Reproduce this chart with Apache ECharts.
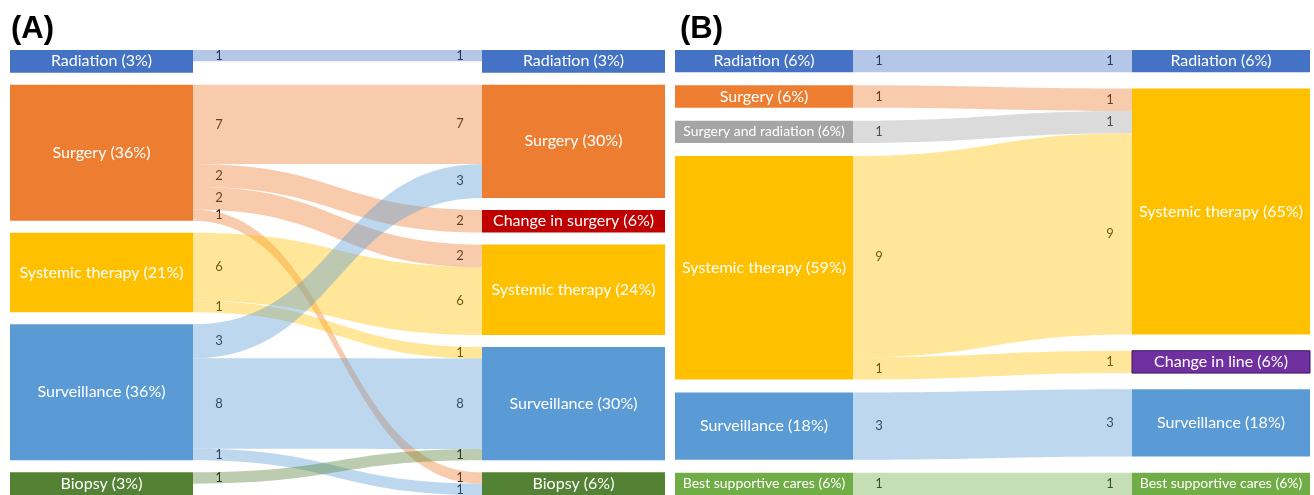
<!DOCTYPE html>
<html>
<head>
<meta charset="utf-8">
<script src="https://cdn.jsdelivr.net/npm/echarts@6/dist/echarts.min.js"></script>
<style>
html, body { margin: 0; padding: 0; background: #fff; }
#main { width: 1314px; height: 495px; }
</style>
</head>
<body>
<div id="main"></div>
<script>
// (A) treatment before / after
var leftA = ['Radiation (3%)', 'Surgery (36%)', 'Systemic therapy (21%)', 'Surveillance (36%)', 'Biopsy (3%)'];
var rightA = ['Radiation (3%)', 'Surgery (30%)', 'Change in surgery (6%)', 'Systemic therapy (24%)', 'Surveillance (30%)', 'Biopsy (6%)'];
var leftColorsA = ['#4472C4', '#ED7D31', '#FFC000', '#5B9BD5', '#548235'];
var rightColorsA = ['#4472C4', '#ED7D31', '#C00000', '#FFC000', '#5B9BD5', '#548235'];
// [left index, right index, patients]
var linksA = [
    [0, 0, 1],
    [1, 1, 7], [1, 2, 2], [1, 3, 2], [1, 5, 1],
    [2, 3, 6], [2, 4, 1],
    [3, 1, 3], [3, 4, 8], [3, 5, 1],
    [4, 4, 1]
];

// (B)
var leftB = ['Radiation (6%)', 'Surgery (6%)', 'Surgery and radiation (6%)', 'Systemic therapy (59%)', 'Surveillance (18%)', 'Best supportive cares (6%)'];
var rightB = ['Radiation (6%)', 'Systemic therapy (65%)', 'Change in line (6%)', 'Surveillance (18%)', 'Best supportive cares (6%)'];
var leftColorsB = ['#4472C4', '#ED7D31', '#A5A5A5', '#FFC000', '#5B9BD5', '#70AD47'];
var rightColorsB = ['#4472C4', '#FFC000', '#7030A0', '#5B9BD5', '#70AD47'];
var linksB = [
    [0, 0, 1],
    [1, 1, 1],
    [2, 1, 1],
    [3, 1, 9], [3, 2, 1],
    [4, 3, 3],
    [5, 4, 1]
];

function buildNodes(left, right, lc, rc, minSize) {
    var nodes = [];
    left.forEach(function (n, i) {
        nodes.push({ id: 'L' + i, name: n, value: minSize, itemStyle: { color: lc[i] } });
    });
    right.forEach(function (n, i) {
        nodes.push({ id: 'R' + i, name: n, value: minSize, itemStyle: { color: rc[i] } });
    });
    return nodes;
}
function buildLinks(links) {
    return links.map(function (l) {
        return { source: 'L' + l[0], target: 'R' + l[1], value: l[2] };
    });
}

var labelStyle = {
    show: true,
    position: 'inside',
    color: '#fff',
    fontFamily: 'Lato',
    fontSize: 16,
    formatter: function (p) { return p.data.name; }
};

var nodesA = buildNodes(leftA, rightA, leftColorsA, rightColorsA, 2);
var nodesB = buildNodes(leftB, rightB, leftColorsB, rightColorsB, 1);
// long names get a smaller font so they stay inside the box
nodesB.forEach(function (n) {
    if (n.name.length > 24) n.label = { fontSize: 14 };
});
// "Change in line" box has a dark outline
nodesB[leftB.length + 2].itemStyle.borderColor = '#3d1560';
nodesB[leftB.length + 2].itemStyle.borderWidth = 1;
var allNodes = [nodesA, nodesB];

var myChart = echarts.init(document.getElementById('main'));
myChart.setOption({
    animation: false,
    title: [
        { text: '(A)', left: 6, top: 9, textStyle: { fontSize: 31, fontWeight: 'bold', fontFamily: 'Liberation Sans', color: '#000' } },
        { text: '(B)', left: 675, top: 9, textStyle: { fontSize: 31, fontWeight: 'bold', fontFamily: 'Liberation Sans', color: '#000' } }
    ],
    series: [{
        type: 'sankey',
        left: 10, right: 649, top: 50, bottom: 0,
        nodeWidth: 183,
        nodeGap: 12,
        layoutIterations: 0,
        draggable: false,
        emphasis: { disabled: true },
        label: labelStyle,
        lineStyle: { color: 'source', opacity: 0.4, curveness: 0.5 },
        data: nodesA,
        links: buildLinks(linksA)
    }, {
        type: 'sankey',
        left: 675, right: 4, top: 50, bottom: 0,
        nodeWidth: 178,
        nodeGap: 13,
        layoutIterations: 0,
        draggable: false,
        emphasis: { disabled: true },
        label: labelStyle,
        lineStyle: { color: 'source', opacity: 0.4, curveness: 0.5 },
        data: nodesB,
        links: buildLinks(linksB)
    }]
});

// spread every column over the full height (first node at top, last at bottom)
var posY = [];
myChart.getModel().eachSeriesByType('sankey', function (s, si) {
    var box = s.layoutInfo;
    var cols = {};
    posY[si] = {};
    s.getGraph().eachNode(function (n) {
        var k = Math.round(n.getLayout().x);
        (cols[k] = cols[k] || []).push(n);
    });
    Object.keys(cols).forEach(function (k) {
        var col = cols[k].sort(function (a, b) { return a.getLayout().y - b.getLayout().y; });
        var used = 0;
        col.forEach(function (n) { used += n.getLayout().dy; });
        var gap = col.length > 1 ? (box.height - used) / (col.length - 1) : 0;
        var y = 0;
        col.forEach(function (n) {
            posY[si][n.dataIndex] = y;
            allNodes[si][n.dataIndex].localY = y / box.height;
            y += n.getLayout().dy + gap;
        });
    });
});
myChart.setOption({ series: [{ data: nodesA }, { data: nodesB }] });

// patient counts at both ends of every flow, placed from the sankey layout
var els = [];
myChart.getModel().eachSeriesByType('sankey', function (s, si) {
    var box = s.layoutInfo;
    s.getGraph().eachEdge(function (e) {
        var l = e.getLayout(), a = e.node1.getLayout(), b = e.node2.getLayout();
        var ya = posY[si][e.node1.dataIndex], yb = posY[si][e.node2.dataIndex];
        var txt = String(e.getValue());
        var st = { text: txt, fill: '#111', font: '13px Lato', align: 'center', verticalAlign: 'middle', textAlign: 'center', textVerticalAlign: 'middle' };
        els.push({ type: 'text', x: box.x + a.x + a.dx + 26, y: box.y + ya + l.sy + l.dy / 2, style: st, silent: true });
        els.push({ type: 'text', x: box.x + b.x - 22, y: box.y + yb + l.ty + l.dy / 2, style: echarts.util.clone(st), silent: true });
    });
});
myChart.setOption({ graphic: els });
</script>
</body>
</html>
